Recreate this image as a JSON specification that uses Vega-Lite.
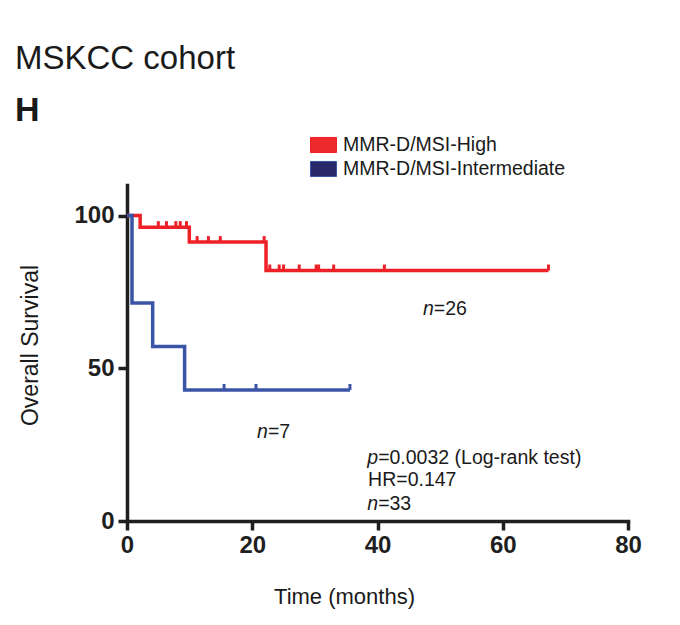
{
  "$schema": "https://vega.github.io/schema/vega-lite/v6.json",
  "width": 501,
  "height": 336,
  "autosize": {"type": "none"},
  "padding": {"left": 127, "top": 185, "right": 52, "bottom": 104},
  "background": "white",
  "config": {"font": "Liberation Sans", "view": {"stroke": null}},
  "title": {
    "text": "MSKCC cohort",
    "subtitle": "H",
    "anchor": "start",
    "frame": "group",
    "dx": -112,
    "dy": 6,
    "fontSize": 33,
    "fontWeight": "normal",
    "color": "#1a1a1a",
    "subtitleFontSize": 34,
    "subtitleFontWeight": "bold",
    "subtitleColor": "#1a1a1a",
    "subtitlePadding": 18,
    "offset": 10
  },
  "datasets": {
    "curve": [
      {"group": "MMR-D/MSI-High", "time": 0, "surv": 100},
      {"group": "MMR-D/MSI-High", "time": 2.1, "surv": 96.2},
      {"group": "MMR-D/MSI-High", "time": 9.95, "surv": 91.3},
      {"group": "MMR-D/MSI-High", "time": 22.2, "surv": 82.0},
      {"group": "MMR-D/MSI-High", "time": 67.3, "surv": 82.0},
      {"group": "MMR-D/MSI-Intermediate", "time": 0, "surv": 100},
      {"group": "MMR-D/MSI-Intermediate", "time": 0.8, "surv": 71.4},
      {"group": "MMR-D/MSI-Intermediate", "time": 4.1, "surv": 57.1},
      {"group": "MMR-D/MSI-Intermediate", "time": 9.2, "surv": 42.9},
      {"group": "MMR-D/MSI-Intermediate", "time": 35.6, "surv": 42.9}
    ],
    "censor": [
      {"group": "MMR-D/MSI-High", "time": 5.0, "surv": 96.2},
      {"group": "MMR-D/MSI-High", "time": 6.3, "surv": 96.2},
      {"group": "MMR-D/MSI-High", "time": 7.8, "surv": 96.2},
      {"group": "MMR-D/MSI-High", "time": 8.5, "surv": 96.2},
      {"group": "MMR-D/MSI-High", "time": 9.5, "surv": 96.2},
      {"group": "MMR-D/MSI-High", "time": 11.2, "surv": 91.3},
      {"group": "MMR-D/MSI-High", "time": 13.0, "surv": 91.3},
      {"group": "MMR-D/MSI-High", "time": 14.9, "surv": 91.3},
      {"group": "MMR-D/MSI-High", "time": 21.9, "surv": 91.3},
      {"group": "MMR-D/MSI-High", "time": 22.8, "surv": 82.0},
      {"group": "MMR-D/MSI-High", "time": 24.3, "surv": 82.0},
      {"group": "MMR-D/MSI-High", "time": 25.0, "surv": 82.0},
      {"group": "MMR-D/MSI-High", "time": 27.5, "surv": 82.0},
      {"group": "MMR-D/MSI-High", "time": 30.2, "surv": 82.0},
      {"group": "MMR-D/MSI-High", "time": 30.6, "surv": 82.0},
      {"group": "MMR-D/MSI-High", "time": 33.0, "surv": 82.0},
      {"group": "MMR-D/MSI-High", "time": 41.1, "surv": 82.0},
      {"group": "MMR-D/MSI-High", "time": 67.3, "surv": 82.0},
      {"group": "MMR-D/MSI-Intermediate", "time": 15.5, "surv": 42.9},
      {"group": "MMR-D/MSI-Intermediate", "time": 20.6, "surv": 42.9},
      {"group": "MMR-D/MSI-Intermediate", "time": 35.6, "surv": 42.9}
    ],
    "notes": [
      {"time": 49.0, "surv": 69.5, "it": "n", "rest": "=26"},
      {"time": 22.5, "surv": 29.2, "it": "n", "rest": "=7"},
      {"time": 40.1, "surv": 20.7, "it": "p", "rest": "=0.0032 (Log-rank test)"},
      {"time": 38.5, "surv": 13.4, "it": "", "rest": "HR=0.147"},
      {"time": 40.1, "surv": 5.6, "it": "n", "rest": "=33"}
    ]
  },
  "encoding": {
    "x": {
      "field": "time",
      "type": "quantitative",
      "scale": {"domain": [0, 80], "nice": false, "zero": false},
      "axis": {
        "values": [0, 20, 40, 60, 80],
        "grid": false,
        "domainWidth": 3.5,
        "domainColor": "#1f1f1f",
        "domainCap": "square",
        "tickWidth": 3.5,
        "tickColor": "#1f1f1f",
        "tickSize": 9,
        "labelFontSize": 24,
        "labelFontWeight": "bold",
        "labelColor": "#1f1f1f",
        "labelPadding": 3,
        "labelFlush": false,
        "title": "Time (months)",
        "titleFontSize": 22,
        "titleFontWeight": "normal",
        "titleColor": "#1a1a1a",
        "titleX": 217,
        "titleY": 82,
        "titleAlign": "center",
        "titleBaseline": "alphabetic"
      }
    },
    "y": {
      "field": "surv",
      "type": "quantitative",
      "scale": {"domain": [0, 110], "nice": false},
      "axis": {
        "values": [0, 50, 100],
        "grid": false,
        "domainWidth": 3.5,
        "domainColor": "#1f1f1f",
        "domainCap": "square",
        "tickWidth": 3.5,
        "tickColor": "#1f1f1f",
        "tickSize": 9,
        "labelFontSize": 24,
        "labelFontWeight": "bold",
        "labelColor": "#1f1f1f",
        "labelPadding": 4,
        "labelFlush": false,
        "title": "Overall Survival",
        "titleFontSize": 23,
        "titleFontWeight": "normal",
        "titleColor": "#1a1a1a",
        "titleX": -97,
        "titleY": 160,
        "titleAngle": 270,
        "titleAlign": "center",
        "titleBaseline": "middle"
      }
    }
  },
  "layer": [
    {
      "data": {"name": "curve"},
      "mark": {"type": "line", "interpolate": "step-after", "strokeWidth": 3.5},
      "encoding": {
        "color": {
          "field": "group",
          "type": "nominal",
          "scale": {"domain": ["MMR-D/MSI-High", "MMR-D/MSI-Intermediate"], "range": ["#ed2027", "#3a55a6"]},
          "legend": {
            "orient": "none",
            "legendX": 183,
            "legendY": -53.5,
            "title": null,
            "padding": 0,
            "symbolType": "M-1,-0.58L1,-0.58L1,0.58L-1,0.58Z",
            "symbolSize": 676,
            "symbolStrokeWidth": 1,
            "labelFontSize": 19.5,
            "labelLimit": 0,
            "labelColor": "#1a1a1a",
            "labelOffset": 6,
            "rowPadding": -1.5,
            "encode": {
              "symbols": {
                "update": {
                  "fill": {"signal": "datum.value === 'MMR-D/MSI-High' ? '#ee2a2e' : '#27296b'"},
                  "fillOpacity": {"value": 1},
                  "stroke": {"value": "#555555"},
                  "strokeWidth": {"value": 1},
                  "opacity": {"value": 1}
                }
              }
            }
          }
        }
      }
    },
    {
      "data": {"name": "censor"},
      "mark": {"type": "point", "shape": "M0,0L0,-1", "size": 144, "filled": false, "strokeWidth": 3, "opacity": 1},
      "encoding": {
        "stroke": {
          "field": "group",
          "type": "nominal",
          "scale": {"domain": ["MMR-D/MSI-High", "MMR-D/MSI-Intermediate"], "range": ["#ed2027", "#3a55a6"]},
          "legend": null
        }
      }
    },
    {
      "data": {"name": "notes"},
      "mark": {"type": "text", "align": "right", "baseline": "middle", "fontSize": 19.5, "fontStyle": "italic", "color": "#1a1a1a"},
      "encoding": {"text": {"field": "it"}}
    },
    {
      "data": {"name": "notes"},
      "mark": {"type": "text", "align": "left", "baseline": "middle", "fontSize": 19.5, "color": "#1a1a1a"},
      "encoding": {"text": {"field": "rest"}}
    }
  ]
}
